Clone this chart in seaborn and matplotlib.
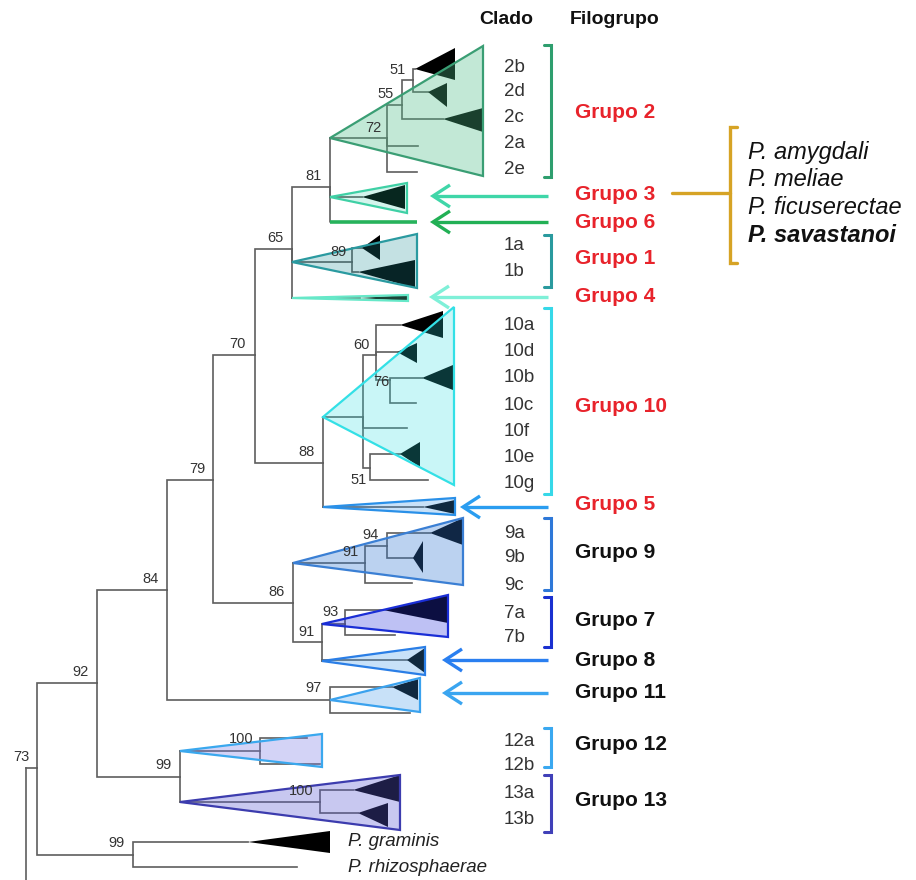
import matplotlib
matplotlib.use("Agg")
import matplotlib.pyplot as plt
from matplotlib.collections import LineCollection
from matplotlib.patches import Polygon
import seaborn as sns

sns.set_theme(style="white")
plt.rcParams["font.family"] = ["Liberation Sans", "DejaVu Sans"]

# ---- tree topology: (node, parent, depth x, row y) ----
tree_nodes = [
    ("root", None, 26, 768), ("out", "root", 26, 895),
    ("n73", "root", 37, 768),
    ("n92", "n73", 97, 683), ("ngram", "n73", 133, 855),
    ("gram", "ngram", 248, 842), ("rhizo", "ngram", 297, 867),
    ("n84", "n92", 167, 590), ("n99", "n92", 180, 777),
    ("n79", "n84", 213, 480), ("n97", "n84", 330, 700),
    ("n70", "n79", 255, 355), ("n86", "n79", 293, 603),
    ("n65", "n70", 292, 249), ("n88", "n70", 323, 463),
    ("n81", "n65", 330, 187), ("g1", "n65", 292, 262), ("g4", "n65", 292, 298),
    ("g2", "n81", 330, 138), ("g3", "n81", 330, 197),
    # group 2
    ("n72", "g2", 387, 138), ("n55", "n72", 402, 105),
    ("l2a", "n72", 418, 146), ("l2e", "n72", 417, 172),
    ("n51a", "n55", 413, 80), ("l2c", "n55", 443, 119),
    ("l2b", "n51a", 415, 69), ("l2d", "n51a", 428, 92),
    # group 3, 1, 4
    ("l3", "g3", 362, 197),
    ("n89", "g1", 352, 262), ("l1a", "n89", 362, 248), ("l1b", "n89", 358, 272),
    ("l4", "g4", 360, 298),
    # group 10 and 5
    ("g10", "n88", 323, 417), ("g5", "n88", 323, 507),
    ("nA", "g10", 363, 417), ("n60", "nA", 376, 355),
    ("l10f", "nA", 407, 428), ("n51b", "nA", 370, 468),
    ("l10a", "n60", 400, 325), ("l10d", "n60", 397, 352), ("n76", "n60", 390, 380),
    ("l10b", "n76", 422, 378), ("l10c", "n76", 416, 403),
    ("l10e", "n51b", 400, 454), ("l10g", "n51b", 428, 480),
    ("l5", "g5", 423, 507),
    # groups 9, 7, 8
    ("g9", "n86", 293, 563), ("n91b", "n86", 322, 642),
    ("n91a", "g9", 365, 563), ("n94", "n91a", 387, 546), ("l9c", "n91a", 412, 583),
    ("l9a", "n94", 430, 533), ("l9b", "n94", 413, 558),
    ("g7", "n91b", 322, 624), ("g8", "n91b", 322, 661),
    ("n93", "g7", 345, 624), ("l7a", "n93", 383, 610), ("l7b", "n93", 395, 635),
    ("l8", "g8", 407, 660),
    # group 11
    ("l11a", "n97", 392, 687), ("l11b", "n97", 410, 713),
    # groups 12 and 13
    ("g12", "n99", 180, 751), ("g13", "n99", 180, 802),
    ("n100a", "g12", 260, 751), ("l12a", "n100a", 307, 738), ("l12b", "n100a", 320, 764),
    ("n100b", "g13", 320, 802), ("l13a", "n100b", 353, 790), ("l13b", "n100b", 358, 813),
]

# leaf with a coloured branch (Grupo 6)
colored_leaf = ("g6", "n81", 417, 222, "#27b35c")

# bootstrap support: (node, value, dx, dy, ha, va)
support = [
    ("n73", "73", -8, -4, "right", "bottom"), ("n92", "92", -8, -4, "right", "bottom"),
    ("n84", "84", -8, -4, "right", "bottom"), ("n79", "79", -8, -4, "right", "bottom"),
    ("n70", "70", -9, -4, "right", "bottom"), ("n65", "65", -8, -4, "right", "bottom"),
    ("n81", "81", -8, -4, "right", "bottom"), ("n88", "88", -8, -4, "right", "bottom"),
    ("n86", "86", -8, -4, "right", "bottom"), ("n91b", "91", -7, -3, "right", "bottom"),
    ("n97", "97", -8, -5, "right", "bottom"), ("n99", "99", -8, -5, "right", "bottom"),
    ("ngram", "99", -8, -5, "right", "bottom"),
    ("n72", "72", -6, -3, "right", "bottom"), ("n55", "55", -8, -4, "right", "bottom"),
    ("n51a", "51", -7, -3, "right", "bottom"), ("n89", "89", -5, -3, "right", "bottom"),
    ("n60", "60", -6, -3, "right", "bottom"), ("n76", "76", -1, 2, "right", "center"),
    ("n51b", "51", -3, 5, "right", "top"), ("n94", "94", -8, -4, "right", "bottom"),
    ("n91a", "91", -6, -4, "right", "bottom"), ("n93", "93", -6, -5, "right", "bottom"),
    ("n100a", "100", -6, -5, "right", "bottom"), ("n100b", "100", -6, -4, "right", "bottom"),
]

# collapsed sub-clades drawn dark: (leaf, right x, top y, bottom y)
dark_clades = [
    ("l2b", 455, 48, 80), ("l2d", 447, 83, 107), ("l2c", 483, 108, 132),
    ("l3", 405, 185, 209), ("l1a", 380, 235, 260), ("l1b", 415, 260, 288),
    ("l4", 408, 295, 301), ("l10a", 443, 311, 338), ("l10d", 417, 343, 363),
    ("l10b", 453, 365, 390), ("l10e", 420, 442, 467), ("l5", 455, 500, 514),
    ("l9a", 463, 518, 545), ("l9b", 423, 541, 573), ("l7a", 448, 595, 623),
    ("l8", 425, 648, 673), ("l11a", 418, 679, 700), ("l13a", 400, 775, 802),
    ("l13b", 388, 803, 827), ("gram", 330, 831, 853),
]

# group triangles: (apex node, right x, top y, bottom y, fill rgb, alpha, edge)
group_clades = [
    ("g2", 483, 46, 176, (77, 190, 136), 0.34, "#3a9e74"),
    ("g3", 407, 183, 213, (40, 200, 160), 0.20, "#3fd0a5"),
    ("g1", 417, 234, 288, (30, 140, 150), 0.26, "#2a9aa0"),
    ("g4", 408, 295, 301, (90, 230, 190), 0.30, "#66e8c8"),
    ("g10", 454, 307, 485, (40, 220, 225), 0.25, "#33e0e6"),
    ("g5", 455, 498, 515, (60, 150, 230), 0.28, "#2a90e8"),
    ("g9", 463, 518, 585, (50, 120, 210), 0.33, "#3a7fd4"),
    ("g7", 448, 595, 637, (40, 50, 220), 0.30, "#1a2ed6"),
    ("g8", 425, 647, 675, (60, 150, 230), 0.28, "#2a7ee6"),
    ("n97", 420, 678, 712, (60, 150, 230), 0.28, "#3aa2ee"),
    ("g12", 322, 734, 767, (120, 120, 230), 0.32, "#3aa8ee"),
    ("g13", 400, 775, 830, (90, 90, 210), 0.33, "#3c3cae"),
]

clade_names = ["2b", "2d", "2c", "2a", "2e", "1a", "1b", "10a", "10d", "10b", "10c",
               "10f", "10e", "10g", "9a", "9b", "9c", "7a", "7b", "12a", "12b", "13a", "13b"]
clade_rows = [67, 92, 118, 144, 170, 245, 272, 325, 352, 378, 405,
              432, 458, 484, 533, 558, 585, 613, 637, 742, 766, 793, 820]

group_names = ["Grupo 2", "Grupo 3", "Grupo 6", "Grupo 1", "Grupo 4", "Grupo 10", "Grupo 5",
               "Grupo 9", "Grupo 7", "Grupo 8", "Grupo 11", "Grupo 12", "Grupo 13"]
group_rows = [113, 195, 222, 258, 296, 407, 505, 553, 620, 660, 692, 745, 800]
group_colors = ["#e8232b"] * 7 + ["#111111"] * 6

# brackets spanning the clade labels: (top y, bottom y, colour)
brackets = [(45, 177, "#2e9e6e"), (235, 287, "#2a9a9e"), (308, 494, "#36d8e8"),
            (518, 590, "#2e78d8"), (597, 647, "#1a30d0"), (728, 767, "#3aa8f0"),
            (775, 832, "#4040b8")]

# arrows pointing at single-lineage groups: (y, tip x, colour)
arrows = [(196, 433, "#3fd6a8"), (222, 433, "#22b055"), (297, 432, "#7ff0d8"),
          (507, 463, "#2a9df0"), (660, 445, "#2a7ff0"), (693, 445, "#3aa5f0")]

species = ["P. amygdali", "P. meliae", "P. ficuserectae", "P. savastanoi"]
species_rows = [152, 180, 208, 236]
outgroups = [("P. graminis", 842), ("P. rhizosphaerae", 868)]

# ------------------------------------------------------------------
fig = plt.figure(figsize=(9.16, 8.8), dpi=100)
ax = fig.add_axes([0, 0, 1, 1])
ax.set_xlim(0, 916)
ax.set_ylim(880, 0)
ax.axis("off")

pos = {n: (x, y) for n, p, x, y in tree_nodes}

# rectangular branches
segs = []
for n, p, x, y in tree_nodes:
    if p is None:
        continue
    px, py = pos[p]
    segs.append([(px, py), (px, y), (x, y)])
ax.add_collection(LineCollection(segs, colors="#5e5e5e", linewidths=1.2,
                                 capstyle="projecting", joinstyle="miter", zorder=2))

# Grupo 6 branch
n, p, x, y, c = colored_leaf
px, py = pos[p]
ax.plot([px, px], [py, y], color="#5e5e5e", lw=1.2, zorder=2)
ax.plot([px, x], [y, y], color=c, lw=2.6, solid_capstyle="butt", zorder=3)

# dark collapsed sub-clades
for leaf, rx, yt, yb in dark_clades:
    ax_, ay = pos[leaf]
    ax.add_patch(Polygon([(ax_, ay), (rx, yt), (rx, yb)], closed=True,
                         facecolor="black", edgecolor="none", zorder=3))

# translucent group triangles on top
for node, rx, yt, yb, rgb, a, ec in group_clades:
    gx, gy = pos[node]
    fc = tuple(v / 255 for v in rgb)
    ax.add_patch(Polygon([(gx, gy), (rx, yt), (rx, yb)], closed=True,
                         facecolor=fc, alpha=a, edgecolor="none", zorder=4))
    ax.add_patch(Polygon([(gx, gy), (rx, yt), (rx, yb)], closed=True,
                         facecolor="none", edgecolor=ec, lw=1.6,
                         joinstyle="miter", zorder=5))

# support values
for node, val, dx, dy, ha, va in support:
    x, y = pos[node]
    ax.text(x + dx, y + dy, val, ha=ha, va=va, fontsize=10.5, color="#333333", zorder=6)

# outgroup species names
for name, y in outgroups:
    ax.text(348, y, name, ha="left", va="center", fontsize=13.5, style="italic",
            color="#222222")

# clade labels
for name, y in zip(clade_names, clade_rows):
    ax.text(504, y, name, ha="left", va="center", fontsize=13.5, color="#333333")

# brackets
for yt, yb, c in brackets:
    ax.plot([544, 551, 551, 544], [yt, yt, yb, yb], color=c, lw=2.2,
            solid_joinstyle="miter")

# arrows
for y, tip, c in arrows:
    ax.plot([548, tip + 1], [y, y], color=c, lw=2.4, solid_capstyle="butt")
    ax.plot([tip + 17, tip, tip + 17], [y - 11, y, y + 11], color=c, lw=2.4,
            solid_joinstyle="miter", solid_capstyle="butt")

# group names
for name, y, c in zip(group_names, group_rows, group_colors):
    ax.text(575, y, name, ha="left", va="center", fontsize=15, fontweight="bold",
            color=c)

# headers
ax.text(506, 20, "Clado", ha="center", va="center", fontsize=14, fontweight="bold",
        color="#111111")
ax.text(615, 20, "Filogrupo", ha="center", va="center", fontsize=14, fontweight="bold",
        color="#111111")

# species within Grupo 3
gold = "#d6a325"
ax.plot([672, 730], [193, 193], color=gold, lw=2.4)
ax.plot([737, 730, 730, 737], [127, 127, 263, 263], color=gold, lw=2.4,
        solid_joinstyle="miter")
for name, y in zip(species, species_rows):
    ax.text(748, y, name, ha="left", va="center", fontsize=17, style="italic",
            fontweight="bold" if name == "P. savastanoi" else "normal", color="#111111")

fig.savefig("out.png", dpi=100)
